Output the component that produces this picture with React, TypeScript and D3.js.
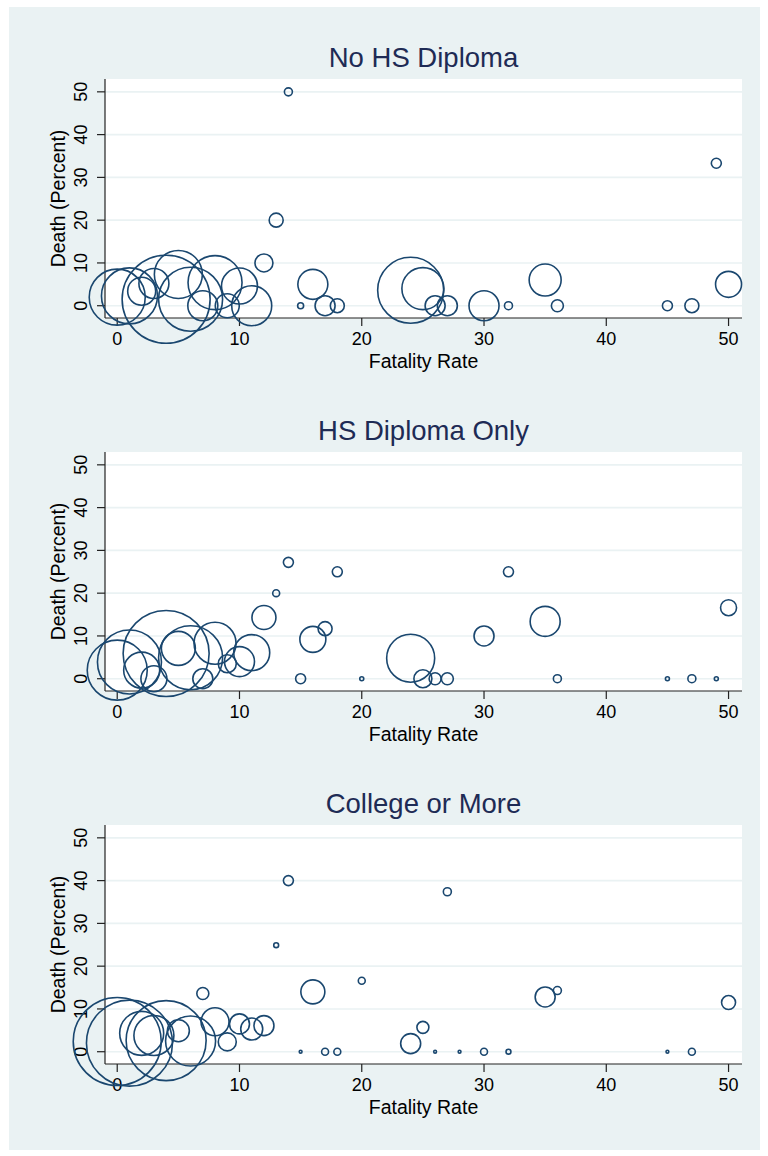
import React from 'react';
import * as d3 from 'd3';

// ---------- data ----------
const xTicks = [0, 10, 20, 30, 40, 50];
const yTicks = [0, 10, 20, 30, 40, 50];
const panelTitles = ['No HS Diploma', 'HS Diploma Only', 'College or More'];
const xTitle = 'Fatality Rate';
const yTitle = 'Death (Percent)';

// Panel 1: No HS Diploma
const noHsRate = [0, 1, 2, 3, 4, 5, 6, 7, 8, 9, 10, 11, 12, 13, 14, 15, 16, 17, 18, 24, 25, 26, 27, 30, 32, 35, 36, 45, 47, 49, 50];
const noHsDeath = [2.0, 2.3, 3.4, 5.2, 1.5, 7.3, 1.5, 0, 5.4, 0, 4.6, 0, 10, 20, 50, 0, 5, 0, 0, 3.6, 4, 0, 0, 0, 0, 6, 0, 0, 0, 33.3, 5];
const noHsWeight = [784, 784, 196, 225, 1936, 576, 1024, 225, 729, 144, 324, 400, 81, 49, 16, 9, 225, 100, 49, 1089, 441, 100, 100, 225, 16, 256, 36, 25, 49, 25, 169];

// Panel 2: HS Diploma Only
const hsRate = [0, 1, 2, 3, 4, 5, 6, 7, 8, 9, 10, 11, 12, 13, 14, 15, 16, 17, 18, 20, 24, 25, 26, 27, 30, 32, 35, 36, 45, 47, 49, 50];
const hsDeath = [2, 3.9, 2, 0, 5.9, 7.1, 4.9, 0, 8.3, 3.5, 4, 6.1, 14.3, 20, 27.2, 0, 9.2, 11.7, 25, 0, 4.8, 0, 0, 0, 10, 25, 13.4, 0, 0, 0, 0, 16.6];
const hsWeight = [900, 1024, 324, 169, 1849, 289, 1024, 100, 441, 81, 225, 324, 144, 12, 25, 25, 169, 49, 25, 4, 576, 81, 36, 36, 100, 25, 225, 16, 4, 16, 4, 64];

// Panel 3: College or More
const colRate = [0, 1, 2, 3, 4, 5, 6, 7, 8, 9, 10, 11, 12, 13, 14, 15, 16, 17, 18, 20, 24, 25, 26, 27, 28, 30, 32, 35, 36, 45, 47, 50];
const colDeath = [2.4, 2.0, 4.3, 3.8, 2.6, 4.9, 2.5, 13.6, 7.0, 2.3, 6.5, 5.3, 6.1, 24.9, 40, 0, 14, 0, 0, 16.6, 1.9, 5.7, 0, 37.4, 0, 0, 0, 12.8, 14.3, 0, 0, 11.5];
const colWeight = [1936, 1849, 484, 400, 1600, 121, 625, 36, 196, 81, 100, 121, 100, 6, 25, 2, 144, 12, 12, 12, 100, 36, 2, 16, 2, 12, 6, 100, 16, 2, 12, 49];

// ---------- layout ----------
const W = 768;
const H = 1156;
const plotLeft = 105;
const plotRight = 742;
const plotTops = [79, 452, 825];
const plotH = 239;
const font = '"Liberation Sans", Arial, Helvetica, sans-serif';
const bg = '#eaf2f3';
const navy = '#1a476f';
const titleColor = '#1e2b55';

const panels = [
  { rate: noHsRate, death: noHsDeath, weight: noHsWeight },
  { rate: hsRate, death: hsDeath, weight: hsWeight },
  { rate: colRate, death: colDeath, weight: colWeight },
];

const xScale = d3.scaleLinear().domain([-1.0, 51.1]).range([plotLeft, plotRight]);
const rScale = d3.scaleSqrt().domain([0, 100]).range([0, 10]);

function Panel({ idx }: { idx: number }) {
  const top = plotTops[idx];
  const bottom = top + plotH;
  const yScale = d3.scaleLinear().domain([-2.87, 53.0]).range([bottom, top]);
  const p = panels[idx];
  const pts = p.rate.map((r, i) => ({ x: r, y: p.death[i], w: p.weight[i] }));
  const midX = (plotLeft + plotRight) / 2;
  const midY = (top + bottom) / 2;
  return (
    <g>
      <rect x={plotLeft} y={top} width={plotRight - plotLeft} height={plotH} fill="#ffffff" />
      {yTicks.map((t) => (
        <line key={'g' + t} x1={plotLeft} x2={plotRight} y1={yScale(t)} y2={yScale(t)} stroke={bg} strokeWidth={1.6} />
      ))}
      {/* axes */}
      <line x1={plotLeft} x2={plotLeft} y1={top} y2={bottom} stroke="#222" strokeWidth={1.2} />
      <line x1={plotLeft} x2={plotRight} y1={bottom} y2={bottom} stroke="#222" strokeWidth={1.2} />
      {yTicks.map((t) => (
        <g key={'y' + t}>
          <line x1={plotLeft - 8} x2={plotLeft} y1={yScale(t)} y2={yScale(t)} stroke="#222" strokeWidth={1.2} />
          <text
            transform={`translate(87,${yScale(t)}) rotate(-90)`}
            textAnchor="middle"
            fontSize={18}
            fontFamily={font}
            fill="#000"
          >
            {t}
          </text>
        </g>
      ))}
      {xTicks.map((t) => (
        <g key={'x' + t}>
          <line x1={xScale(t)} x2={xScale(t)} y1={bottom} y2={bottom + 8} stroke="#222" strokeWidth={1.2} />
          <text x={xScale(t)} y={bottom + 27} textAnchor="middle" fontSize={18} fontFamily={font} fill="#000">
            {t}
          </text>
        </g>
      ))}
      <text x={midX} y={bottom + 50} textAnchor="middle" fontSize={19.5} fontFamily={font} fill="#000">
        {xTitle}
      </text>
      <text
        transform={`translate(65,${midY}) rotate(-90)`}
        textAnchor="middle"
        fontSize={19.5}
        fontFamily={font}
        fill="#000"
      >
        {yTitle}
      </text>
      <text x={midX} y={top - 12} textAnchor="middle" fontSize={27.5} fontFamily={font} fill={titleColor}>
        {panelTitles[idx]}
      </text>
      {pts.map((d, i) => (
        <circle
          key={'c' + i}
          cx={xScale(d.x)}
          cy={yScale(d.y)}
          r={rScale(d.w)}
          fill="none"
          stroke={navy}
          strokeWidth={1.6}
        />
      ))}
    </g>
  );
}

export default function App() {
  return (
    <svg
      width={W}
      height={H}
      style={{ position: 'absolute', left: 0, top: 0, display: 'block' }}
      xmlns="http://www.w3.org/2000/svg"
    >
      <rect x={0} y={0} width={W} height={H} fill="#ffffff" />
      <rect x={9} y={7} width={751} height={1143} fill={bg} />
      {[0, 1, 2].map((i) => (
        <Panel key={i} idx={i} />
      ))}
    </svg>
  );
}
